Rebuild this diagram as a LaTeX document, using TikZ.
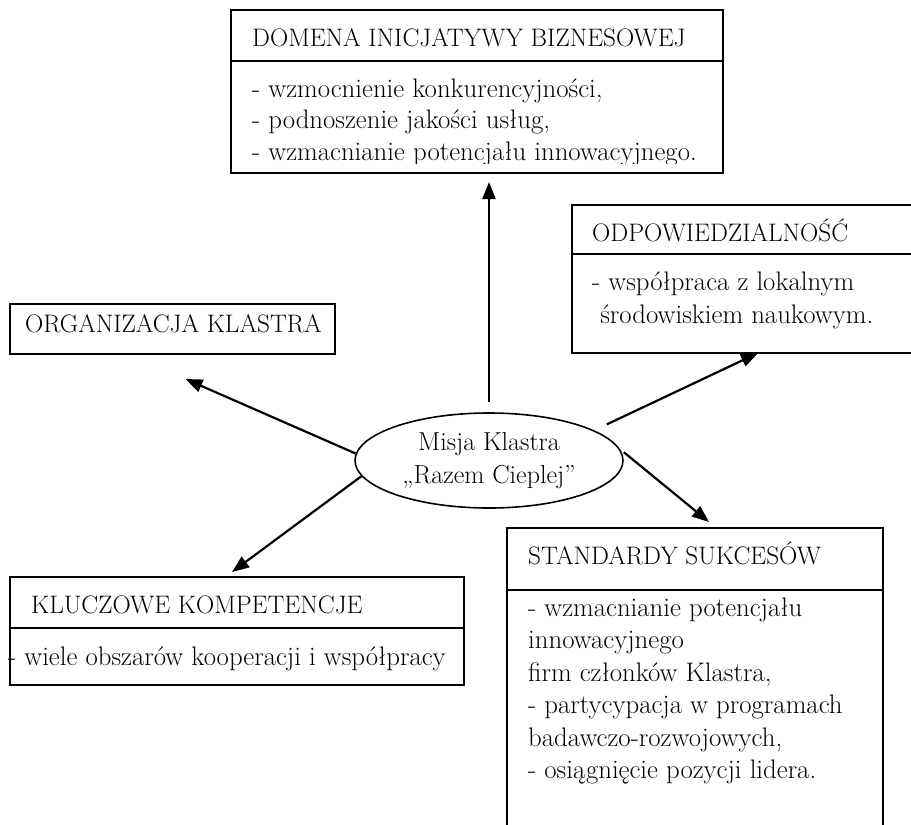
\documentclass[tikz,border=0pt]{standalone}
\usepackage{fontspec}
\usetikzlibrary{arrows.meta,calc,positioning,shapes.geometric}

\begin{document}
\begin{tikzpicture}[x=1pt,y=-1pt,>={Triangle[length=17pt,width=13pt]},
  panel/.style={draw,rectangle,line width=1.6pt,anchor=north west,inner sep=0pt,outer sep=0pt},
  heading/.style={anchor=base west,inner sep=0pt,font=\fontsize{25.3}{30}\selectfont},
  entry/.style={anchor=base west,inner sep=0pt,font=\fontsize{26.8}{31}\selectfont},
  mission/.style={draw,ellipse,line width=1.6pt,minimum width=268pt,minimum height=95pt,
    inner sep=0pt,align=center,font=\fontsize{26}{33}\selectfont},
  link/.style={->,line width=2.2pt}]
\useasboundingbox (0,0) rectangle (911,825);

\node[panel,minimum width=492pt,minimum height=51pt] (dom-h) at (231,10) {};
\node[panel,minimum width=492pt,minimum height=112pt] (dom-b) at (dom-h.south west) {};
\node[heading] (dom-t) at ($(dom-h.north west)+(21,36)$) {DOMENA INICJATYWY BIZNESOWEJ};
\begin{scope}
  \clip (dom-b.north west) rectangle ([yshift=10pt]dom-b.south east);
  \foreach \txt [count=\i] in {{- wzmocnienie konkurencyjności,},{- podnoszenie jakości usług,},
      {- wzmacnianie potencjału innowacyjnego.}}
    \node[entry] (dom-\i) at ($(dom-b.north west)+(21,4.5+31.5*\i)$) {\txt};
\end{scope}

\node[panel,minimum width=360pt,minimum height=49pt] (odp-h) at (572,205) {};
\node[panel,minimum width=360pt,minimum height=99pt] (odp-b) at (odp-h.south west) {};
\node[heading] (odp-t) at ($(odp-h.north west)+(20,36)$) {ODPOWIEDZIALNOŚĆ};
\foreach \txt [count=\i] in {{- współpraca z lokalnym},{\ środowiskiem naukowym.}}
  \node[entry] (odp-\i) at ($(odp-b.north west)+(20,3+33*\i)$) {\txt};

\node[panel,minimum width=325pt,minimum height=50pt] (org) at (10,304) {};
\node[heading] (org-t) at ($(org.north west)+(15,28)$) {ORGANIZACJA KLASTRA};

\node[panel,minimum width=454pt,minimum height=51pt] (klu-h) at (10,577) {};
\node[panel,minimum width=454pt,minimum height=57pt] (klu-b) at (klu-h.south west) {};
\node[heading] (klu-t) at ($(klu-h.north west)+(21,36)$) {KLUCZOWE KOMPETENCJE};
\node[entry] (klu-1) at ($(klu-b.north west)+(-2,37)$) {- wiele obszarów kooperacji i współpracy};

\node[panel,minimum width=376pt,minimum height=62pt] (std-h) at (507,528) {};
\node[panel,minimum width=376pt,minimum height=260pt] (std-b) at (std-h.south west) {};
\node[heading] (std-t) at ($(std-h.north west)+(21,36)$) {STANDARDY SUKCESÓW};
\foreach \txt [count=\i] in {{- wzmacnianie potencjału},{innowacyjnego},{firm członków Klastra,},
    {- partycypacja w programach},{badawczo-rozwojowych,},{- osiągnięcie pozycji lidera.}}
  \node[entry] (std-\i) at ($(std-b.north west)+(21,-6.5+32.5*\i)$) {\txt};

\node[mission] (misja) at (489,460.5) {Misja Klastra\\„Razem Cieplej”};

\coordinate (org-end) at ($(org.south)+(13,25)$);
\coordinate (klu-end) at ($(klu-h.north)+(-5,-5)$);
\coordinate (odp-end) at ($(odp-b.south)+(6,0)$);
\coordinate (std-end) at ($(std-h.north)+(14,-6)$);

\draw[link,shorten <=10pt,shorten >=9pt] (misja.north) -- (misja.north |- dom-b.south);
\draw[link] (misja.177) -- (org-end);
\draw[link] (misja.187) -- (klu-end);
\draw[link,shorten <=14pt] (misja.16) -- (odp-end);
\draw[link,shorten <=5pt] (misja.5) -- (std-end);
\end{tikzpicture}
\end{document}
